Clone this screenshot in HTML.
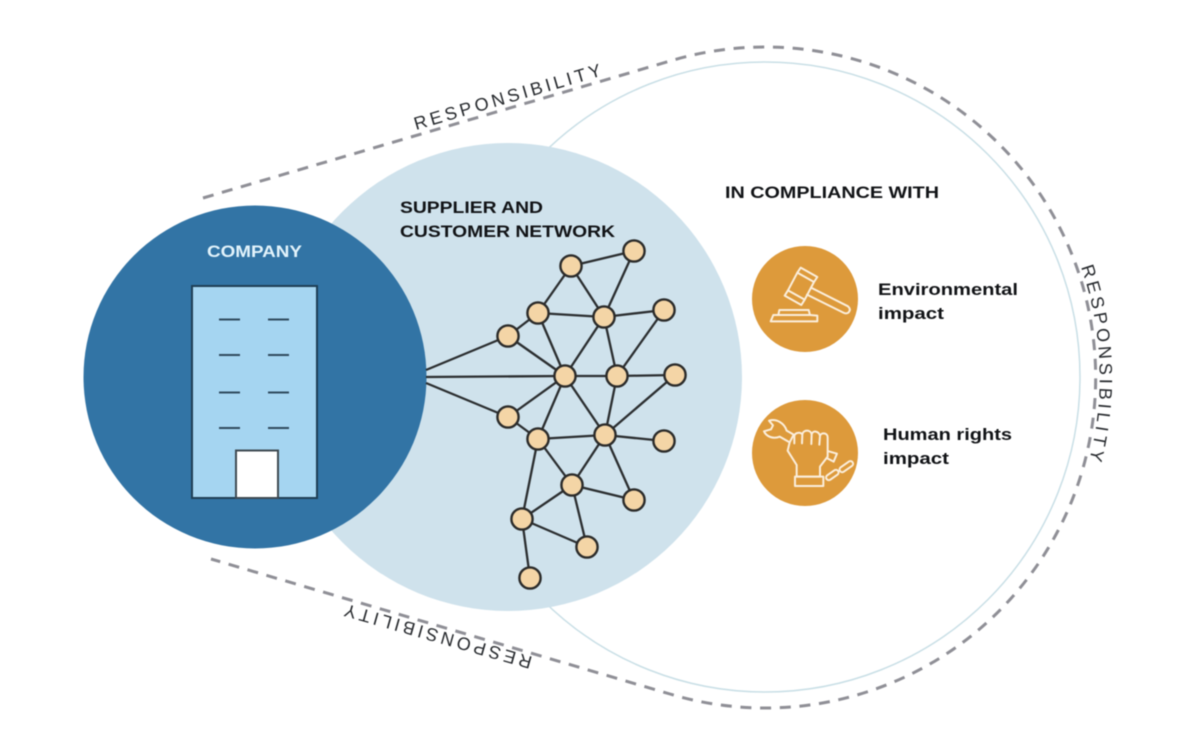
<!DOCTYPE html>
<html><head><meta charset="utf-8"><style>
html,body{margin:0;padding:0;background:#fff;width:1179px;height:748px;overflow:hidden}
svg{display:block;filter:blur(.45px)}
text{font-family:"Liberation Sans",sans-serif}
.b{font-weight:bold;font-size:17px;fill:#111316}
.r{font-size:18px;fill:#26292d}
.e line{stroke:#2b2e30;stroke-width:2.3}
.n circle{fill:#f4d5a6;stroke:#2b2b2a;stroke-width:2.4}
.i *{fill:none;stroke:#fbeedb;stroke-width:6;stroke-linejoin:round;stroke-linecap:round}
</style></head><body>
<svg width="1179" height="748" viewBox="0 0 1179 748" xmlns="http://www.w3.org/2000/svg">
<circle cx="765" cy="377" r="315" fill="#fff" stroke="#c9dfe6" stroke-width="1.5"/>
<path d="M203,198 L670,61 A330.500,330.500 0 1 1 670,694 L211,559" fill="none" stroke="#8f8f96" stroke-width="3" stroke-dasharray="11 8.700"/>
<circle cx="508" cy="377" r="234" fill="#cfe2ec"/>
<circle cx="255" cy="377" r="171.500" fill="#3274a5"/>
<rect x="192" y="286" width="125" height="212" fill="#a5d5f1" stroke="#1f3f55" stroke-width="2"/>
<rect x="236" y="450.500" width="42" height="47.500" fill="#fff" stroke="#3f4a52" stroke-width="2"/>
<g stroke="#2f4a5e" stroke-width="2">
<line x1="219" y1="319.500" x2="240" y2="319.500"/><line x1="268" y1="319.500" x2="289" y2="319.500"/>
<line x1="219" y1="355" x2="240" y2="355"/><line x1="268" y1="355" x2="289" y2="355"/>
<line x1="219" y1="392.500" x2="240" y2="392.500"/><line x1="268" y1="392.500" x2="289" y2="392.500"/>
<line x1="219" y1="428" x2="240" y2="428"/><line x1="268" y1="428" x2="289" y2="428"/>
</g>
<text x="207" y="257" class="b" style="fill:#e2f3fb" textLength="95" lengthAdjust="spacingAndGlyphs">COMPANY</text>
<text x="400" y="213" class="b" textLength="143" lengthAdjust="spacingAndGlyphs">SUPPLIER AND</text>
<text x="400" y="237" class="b" textLength="215" lengthAdjust="spacingAndGlyphs">CUSTOMER NETWORK</text>
<text x="725" y="198" class="b" textLength="214" lengthAdjust="spacingAndGlyphs">IN COMPLIANCE WITH</text>
<g class="e">
<line x1="426" y1="370" x2="508" y2="336"/><line x1="426" y1="377" x2="565" y2="376"/><line x1="426" y1="383" x2="508" y2="417"/>
<line x1="571" y1="266" x2="634" y2="251"/><line x1="571" y1="266" x2="538" y2="313"/><line x1="571" y1="266" x2="604" y2="317"/>
<line x1="634" y1="251" x2="604" y2="317"/><line x1="538" y1="313" x2="604" y2="317"/><line x1="538" y1="313" x2="508" y2="336"/>
<line x1="538" y1="313" x2="565" y2="376"/><line x1="604" y1="317" x2="664" y2="310"/><line x1="604" y1="317" x2="565" y2="376"/>
<line x1="604" y1="317" x2="617" y2="376"/><line x1="664" y1="310" x2="617" y2="376"/><line x1="508" y1="336" x2="565" y2="376"/>
<line x1="565" y1="376" x2="617" y2="376"/><line x1="617" y1="376" x2="675" y2="375"/><line x1="565" y1="376" x2="508" y2="417"/>
<line x1="508" y1="417" x2="538" y2="439"/><line x1="565" y1="376" x2="538" y2="439"/><line x1="565" y1="376" x2="605" y2="435"/>
<line x1="617" y1="376" x2="605" y2="435"/><line x1="675" y1="375" x2="605" y2="435"/><line x1="538" y1="439" x2="605" y2="435"/>
<line x1="605" y1="435" x2="664" y2="441"/><line x1="538" y1="439" x2="572" y2="485"/><line x1="605" y1="435" x2="572" y2="485"/>
<line x1="605" y1="435" x2="634" y2="500"/><line x1="572" y1="485" x2="634" y2="500"/><line x1="538" y1="439" x2="522" y2="519"/>
<line x1="572" y1="485" x2="522" y2="519"/><line x1="572" y1="485" x2="587" y2="547"/><line x1="522" y1="519" x2="587" y2="547"/>
<line x1="522" y1="519" x2="530" y2="578"/>
</g>
<g class="n">
<circle cx="571" cy="266" r="10.600"/><circle cx="634" cy="251" r="10.600"/><circle cx="538" cy="313" r="10.600"/>
<circle cx="604" cy="317" r="10.600"/><circle cx="664" cy="310" r="10.600"/><circle cx="508" cy="336" r="10.600"/>
<circle cx="565" cy="376" r="10.600"/><circle cx="617" cy="376" r="10.600"/><circle cx="675" cy="375" r="10.600"/>
<circle cx="508" cy="417" r="10.600"/><circle cx="538" cy="439" r="10.600"/><circle cx="605" cy="435" r="10.600"/>
<circle cx="664" cy="441" r="10.600"/><circle cx="572" cy="485" r="10.600"/><circle cx="634" cy="500" r="10.600"/>
<circle cx="522" cy="519" r="10.600"/><circle cx="587" cy="547" r="10.600"/><circle cx="530" cy="578" r="10.600"/>
</g>
<circle cx="805" cy="299" r="53" fill="#dd9a3b"/>
<circle cx="805" cy="453" r="53" fill="#dd9a3b"/>
<g class="i" transform="translate(760 255) scale(.3333)">
<path d="M122,38 L172,66 L162,81 L112,53 Z"/>
<path d="M84,106 L134,134 L124,150 L74,122 Z"/>
<path d="M112,53 L84,106 M162,81 L134,134"/>
<path d="M153,98 L264,154 Q274,163 266,172 Q259,178 250,173 L141,119"/>
<path d="M32,199 L172,199 L172,182 L150,180 L40,180 Z"/>
<path d="M55,180 L58,165 L146,165 L150,180"/>
</g>
<g class="i" transform="translate(755 410) scale(.3333)">
<path d="M42,32 C65,25 88,40 95,62 L116,74 L104,97 L74,80 C55,88 34,80 27,64 L48,58 L54,46 Z"/>
<path d="M104,97 L98,122 L125,165 L125,200 L195,200 L195,170 L218,140 L218,82 C218,68 198,66 195,78 C192,62 172,60 170,74 C168,58 144,58 142,74 C138,66 120,66 118,78 L118,100 M142,74 L141,100 M170,74 L169,102 M195,78 L193,104"/>
<path d="M120,200 L205,200 L205,228 L120,228 Z"/>
<path d="M221,124 L246,131 L236,155 L217,145"/>
<rect x="-21" y="-8" width="42" height="16" rx="8" transform="translate(232 195) rotate(-35)"/>
<rect x="-23" y="-8" width="46" height="16" rx="8" transform="translate(274 170) rotate(-35)"/>
</g>
<text x="878" y="295" class="b" textLength="140" lengthAdjust="spacingAndGlyphs">Environmental</text>
<text x="878" y="319" class="b" textLength="66" lengthAdjust="spacingAndGlyphs">impact</text>
<text x="883" y="440" class="b" textLength="129" lengthAdjust="spacingAndGlyphs">Human rights</text>
<text x="883" y="464" class="b" textLength="66" lengthAdjust="spacingAndGlyphs">impact</text>
<text class="r" transform="translate(416 130) rotate(-16.300)" textLength="194">RESPONSIBILITY</text>
<text class="r" transform="translate(533 657) rotate(195.900)" textLength="194">RESPONSIBILITY</text>
<path id="arc" d="M1081,267 A335,335 0 0 1 1086,472" fill="none"/>
<text class="r"><textPath href="#arc" textLength="196">RESPONSIBILITY</textPath></text>
</svg>
</body></html>
